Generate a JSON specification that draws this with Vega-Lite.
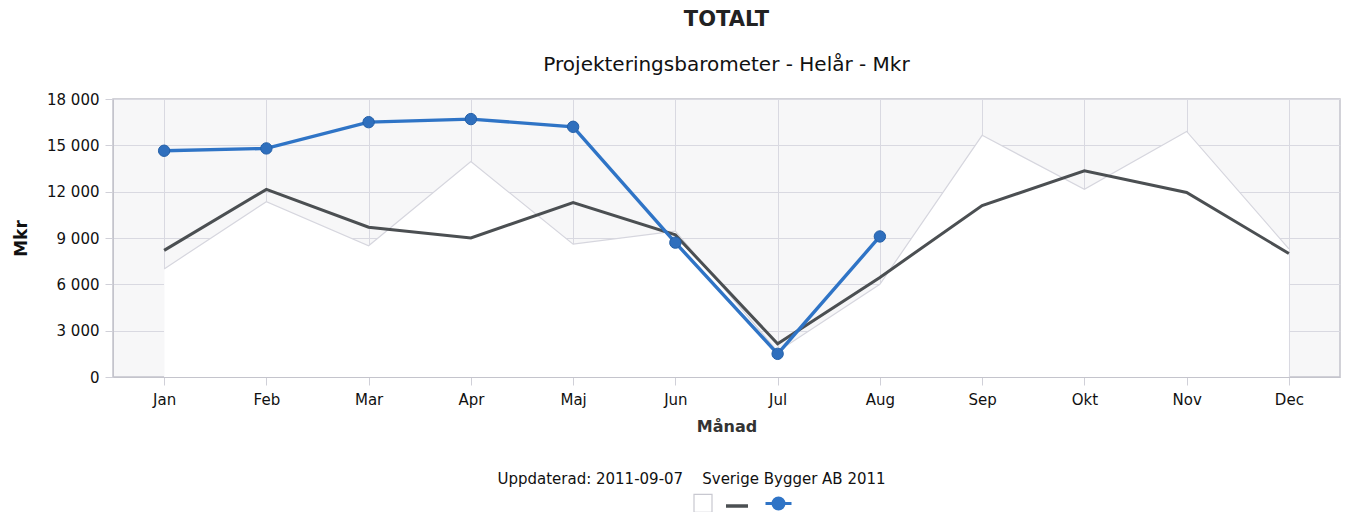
{
  "$schema": "https://vega.github.io/schema/vega-lite/v6.json",
  "width": 1227,
  "height": 278,
  "autosize": {"type": "none"},
  "padding": {"left": 113, "top": 99, "right": 6, "bottom": 135},
  "background": "#ffffff",
  "title": {
    "text": "TOTALT",
    "subtitle": "Projekteringsbarometer - Helår - Mkr",
    "anchor": "middle",
    "font": "DejaVu Sans",
    "fontSize": 21,
    "fontWeight": "bold",
    "color": "#222222",
    "subtitleFont": "DejaVu Sans",
    "subtitleFontSize": 20,
    "subtitleColor": "#111111",
    "subtitlePadding": 25,
    "offset": 17
  },
  "data": {
    "values": [
      {"m": "Jan", "s": "2009", "v": 7000},
      {"m": "Feb", "s": "2009", "v": 11350},
      {"m": "Mar", "s": "2009", "v": 8500},
      {"m": "Apr", "s": "2009", "v": 13950},
      {"m": "Maj", "s": "2009", "v": 8600},
      {"m": "Jun", "s": "2009", "v": 9450},
      {"m": "Jul", "s": "2009", "v": 1650},
      {"m": "Aug", "s": "2009", "v": 6000},
      {"m": "Sep", "s": "2009", "v": 15650},
      {"m": "Okt", "s": "2009", "v": 12150},
      {"m": "Nov", "s": "2009", "v": 15900},
      {"m": "Dec", "s": "2009", "v": 8300},
      {"m": "Jan", "s": "2010", "v": 8200},
      {"m": "Feb", "s": "2010", "v": 12150},
      {"m": "Mar", "s": "2010", "v": 9700},
      {"m": "Apr", "s": "2010", "v": 9000},
      {"m": "Maj", "s": "2010", "v": 11300},
      {"m": "Jun", "s": "2010", "v": 9200},
      {"m": "Jul", "s": "2010", "v": 2150},
      {"m": "Aug", "s": "2010", "v": 6450},
      {"m": "Sep", "s": "2010", "v": 11100},
      {"m": "Okt", "s": "2010", "v": 13350},
      {"m": "Nov", "s": "2010", "v": 11950},
      {"m": "Dec", "s": "2010", "v": 8000},
      {"m": "Jan", "s": "2011", "v": 14650},
      {"m": "Feb", "s": "2011", "v": 14800},
      {"m": "Mar", "s": "2011", "v": 16500},
      {"m": "Apr", "s": "2011", "v": 16700},
      {"m": "Maj", "s": "2011", "v": 16200},
      {"m": "Jun", "s": "2011", "v": 8700},
      {"m": "Jul", "s": "2011", "v": 1500},
      {"m": "Aug", "s": "2011", "v": 9100}
    ]
  },
  "encoding": {
    "y": {
      "field": "v",
      "type": "quantitative",
      "scale": {"domain": [0, 18000], "nice": false},
      "axis": {
        "title": "Mkr",
        "values": [0, 3000, 6000, 9000, 12000, 15000, 18000],
        "labelExpr": "replace(format(datum.value, ','), ',', ' ')",
        "grid": true,
        "gridColor": "#d9d9e1",
        "tickColor": "#d0d0d8",
        "tickSize": 8,
        "domainColor": "#c4c4cc",
        "labelFont": "DejaVu Sans",
        "labelFontSize": 15,
        "labelColor": "#111111",
        "labelPadding": 6,
        "titleFont": "DejaVu Sans",
        "titleFontSize": 17,
        "titleFontWeight": "bold",
        "titleColor": "#111111",
        "titlePadding": 16
      }
    }
  },
  "resolve": {"axis": {"x": "independent"}},
  "layer": [
    {
      "transform": [{"filter": "datum.s == '2009'"}],
      "mark": {"type": "area", "fill": "#ffffff", "opacity": 1},
      "encoding": {
        "x": {
          "field": "m",
          "type": "ordinal",
          "sort": ["Jan","Feb","Mar","Apr","Maj","Jun","Jul","Aug","Sep","Okt","Nov","Dec"],
          "scale": {"type": "point", "padding": 0.5, "domain": ["Jan","Feb","Mar","Apr","Maj","Jun","Jul","Aug","Sep","Okt","Nov","Dec"]},
          "axis": {
            "title": "Månad",
            "labelAngle": 0,
            "grid": true,
            "gridColor": "#d9d9e1",
            "tickColor": "#d0d0d8",
            "tickSize": 8,
            "domainColor": "#c4c4cc",
            "labelFont": "DejaVu Sans",
            "labelFontSize": 15,
            "labelColor": "#111111",
            "labelPadding": 7,
            "titleFont": "DejaVu Sans",
            "titleFontSize": 16,
            "titleFontWeight": "bold",
            "titleColor": "#333333",
            "titlePadding": 11
          }
        }
      }
    },
    {
      "transform": [{"filter": "datum.s == '2009'"}],
      "mark": {"type": "line", "stroke": "#d6d6de", "strokeWidth": 1.2},
      "encoding": {
        "x": {"field": "m", "type": "ordinal", "sort": ["Jan","Feb","Mar","Apr","Maj","Jun","Jul","Aug","Sep","Okt","Nov","Dec"], "axis": null}
      }
    },
    {
      "transform": [{"filter": "datum.s == '2010'"}],
      "mark": {"type": "line", "stroke": "#4b4f52", "strokeWidth": 3},
      "encoding": {
        "x": {"field": "m", "type": "ordinal", "sort": ["Jan","Feb","Mar","Apr","Maj","Jun","Jul","Aug","Sep","Okt","Nov","Dec"], "axis": null}
      }
    },
    {
      "transform": [{"filter": "datum.s == '2011'"}],
      "mark": {"type": "line", "stroke": "#2f74c6", "strokeWidth": 3.4},
      "encoding": {
        "x": {"field": "m", "type": "ordinal", "sort": ["Jan","Feb","Mar","Apr","Maj","Jun","Jul","Aug","Sep","Okt","Nov","Dec"], "axis": null}
      }
    },
    {
      "transform": [{"filter": "datum.s == '2011'"}],
      "mark": {"type": "point", "filled": true, "size": 130, "fill": "#2f6fbd", "stroke": "#2460a8", "strokeWidth": 1, "opacity": 1},
      "encoding": {
        "x": {
          "field": "m",
          "type": "ordinal",
          "sort": ["Jan","Feb","Mar","Apr","Maj","Jun","Jul","Aug","Sep","Okt","Nov","Dec"],
          "axis": {
            "title": "Uppdaterad: 2011-09-07\u00a0\u00a0\u00a0\u00a0Sverige Bygger AB 2011",
            "orient": "bottom",
            "offset": 94,
            "labels": false,
            "ticks": false,
            "domain": false,
            "grid": false,
            "titleX": 578,
            "titleAlign": "center",
            "titleFont": "DejaVu Sans",
            "titleFontSize": 15,
            "titleFontWeight": "normal",
            "titleColor": "#111111",
            "titlePadding": 0
          }
        }
      }
    },
    {
      "transform": [{"filter": "false"}],
      "mark": {"type": "point", "filled": true, "opacity": 1},
      "encoding": {
        "fill": {
          "field": "s",
          "type": "nominal",
          "scale": {"domain": ["2009", "2010", "2011"], "range": ["#ffffff", "transparent", "#2f74c6"]},
          "legend": {
            "orient": "none",
            "legendX": 584,
            "legendY": 398,
            "direction": "horizontal",
            "title": null,
            "labelExpr": "''",
            "labelOffset": 0,
            "labelFontSize": 1,
            "columnPadding": 4,
            "symbolSize": 100
          }
        },
        "stroke": {
          "field": "s",
          "type": "nominal",
          "scale": {"domain": ["2009", "2010", "2011"], "range": ["#c8c8d0", "#4b4f52", "#2f74c6"]},
          "legend": {
            "orient": "none",
            "legendX": 584,
            "legendY": 398,
            "direction": "horizontal",
            "title": null,
            "labelExpr": "''",
            "labelOffset": 0,
            "labelFontSize": 1,
            "columnPadding": 4,
            "symbolSize": 100
          }
        },
        "strokeWidth": {
          "field": "s",
          "type": "nominal",
          "scale": {"type": "ordinal", "domain": ["2009", "2010", "2011"], "range": [1.2, 3.5, 3]},
          "legend": {
            "orient": "none",
            "legendX": 584,
            "legendY": 398,
            "direction": "horizontal",
            "title": null,
            "labelExpr": "''",
            "labelOffset": 0,
            "labelFontSize": 1,
            "columnPadding": 4,
            "symbolSize": 100
          }
        },
        "shape": {
          "field": "s",
          "type": "nominal",
          "scale": {"domain": ["2009", "2010", "2011"], "range": ["M-1.8,-1.8 L1.8,-1.8 L1.8,1.8 L-1.8,1.8 Z", "M-2.2,0 L2.2,0", "M-2.6,0 L2.6,0 M1.1,0 A1.1,1.1 0 1,1 -1.1,0 A1.1,1.1 0 1,1 1.1,0 Z"]},
          "legend": {
            "orient": "none",
            "legendX": 584,
            "legendY": 398,
            "direction": "horizontal",
            "title": null,
            "labelExpr": "''",
            "labelOffset": 0,
            "labelFontSize": 1,
            "columnPadding": 4,
            "symbolSize": 100
          }
        }
      }
    }
  ],
  "config": {
    "view": {"fill": "#f7f7f8", "stroke": "#c4c4cc", "strokeWidth": 1.5},
    "legend": {"columnPadding": 4, "labelOffset": 0, "labelLimit": 1, "padding": 0}
  }
}
